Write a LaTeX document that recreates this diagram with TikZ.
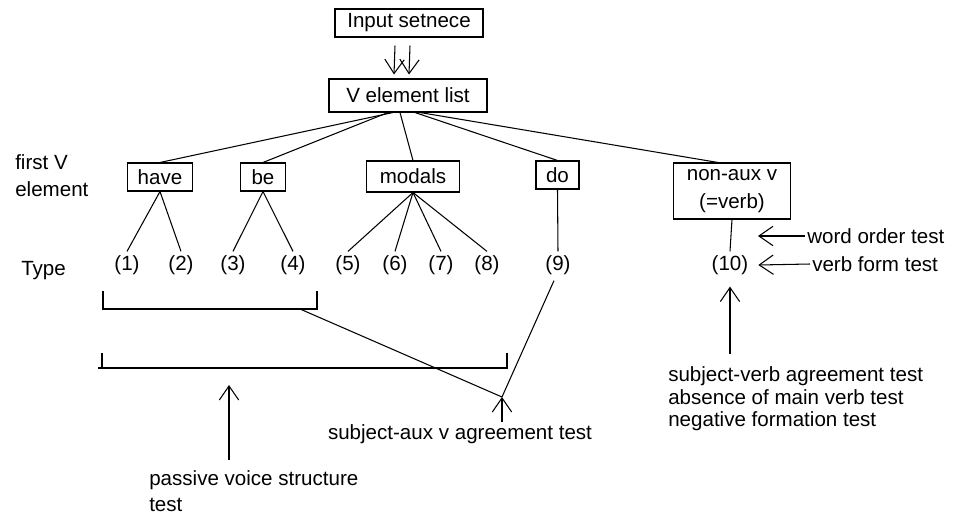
\documentclass[tikz,border=0pt]{standalone}
\usepackage{fontspec}
\setmainfont{Liberation Sans}
\usepackage{tikz}
\usetikzlibrary{arrows.meta, calc}

\begin{document}
\begin{tikzpicture}[x=0.02cm, y=-0.02cm, line width=0.6pt,
  font=\fontsize{11.7}{15.5}\selectfont,
  box/.style={draw, inner sep=0pt, minimum height=0.56cm},
  lbl/.style={inner sep=1pt},
  tip/.style={-{Straight Barb[length=8pt, width=11pt]}}]

 \useasboundingbox (0,0) rectangle (958,514);

 \node [box, minimum width=2.96cm] (input) at (409,23) {Input setnece};
 \node [box, minimum width=3.16cm, minimum height=0.66cm] (vlist) at (408,95.5) {V element list};

 \draw [tip] ($(input.south)+(-14,8)$) -- ($(vlist.north)+(-14,-4)$);
 \draw [tip] ($(input.south)+(1,8)$) -- ($(vlist.north)+(1,-4)$);

 \node [box, minimum width=1.3cm] (have) at (160,177) {have};
 \node [box, minimum width=0.9cm] (be) at (263,177) {be};
 \node [box, minimum width=1.86cm, minimum height=0.62cm] (modals) at (413,176.5) {modals};
 \node [box, minimum width=0.86cm] (do) at (557.5,175) {do};
 \node [box, minimum width=2.34cm, minimum height=1.12cm, align=center] (nonaux) at (732,191) {non-aux v\\(=verb)};

 \node [lbl, anchor=west, align=left] (first) at (13,176) {first V\\element};
 \node [lbl, anchor=west] (type) at (19,271) {Type};

 \foreach \x/\n in {127/1, 181/2, 233/3, 293/4, 348/5, 395/6, 441/7, 487/8, 558/9, 730/10}
   \node [inner sep=2pt] (t\n) at (\x,265) {(\n)};

 \draw ($(vlist.south)+(-15,0)$) -- (have.north);
 \draw ($(vlist.south)+(-20,0)$) -- (be.north);
 \draw ($(vlist.south)+(-8,0)$) -- (modals.north);
 \draw ($(vlist.south)+(7,0)$) -- (do.north);
 \draw ($(vlist.south)+(12,0)$) -- ($(nonaux.north)+(-14,0)$);

 \draw (have.south) -- (t1.north);
 \draw (have.south) -- (t2.north);
 \draw (be.south) -- (t3.north);
 \draw (be.south) -- (t4.north);
 \foreach \n in {5,...,8}
   \draw (modals.south) -- (t\n.north);
 \draw (do.south) -- (t9.north);
 \draw (nonaux.south) -- (t10.north);

 % brackets
 \draw (103,291) -- (103,309) -- (317,309) -- (317,291);
 \draw (102,353) -- (102,368) -- (507,368) -- (507,353);
 \draw (98,368) -- (102,368);

 \coordinate (up) at (300,309);
 \coordinate (agree) at (502,397);
 \coordinate (pv) at (229,385);
 \coordinate (wo) at (758,236);

 \draw (up) -- (agree);
 \draw ($(t9.south)+(-4,2)$) -- (agree);

 \node [lbl] (subj) at (460,434) {subject-aux v agreement test};
 \draw [tip] (subj.north -| agree) -- (agree);

 \node [lbl, anchor=north west, align=left, font=\fontsize{11.7}{14.8}\selectfont] (passive) at (147,468) {passive voice structure\\test};
 \draw [tip] ($(passive.north -| pv)+(0,-8)$) -- (pv);

 \node [lbl, anchor=west] (wot) at (805,236) {word order test};
 \draw [tip] (wot.west) -- (wo);
 \node [lbl, anchor=west] (vft) at (810,264) {verb form test};
 \draw [tip] (vft.west) -- ($(t10.east)+(6,0)$);

 \node [lbl, anchor=north west, align=left, font=\fontsize{11.7}{13}\selectfont] (svt) at (666,364) {subject-verb agreement test\\absence of main verb test\\negative formation test};
 \draw [tip] ($(svt.north -| t10)+(0,-10)$) -- ($(t10.south)+(0,8)$);
\end{tikzpicture}
\end{document}
